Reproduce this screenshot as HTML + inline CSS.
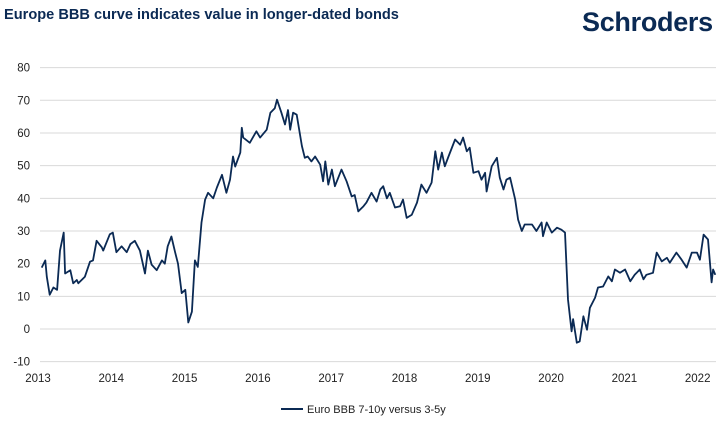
<!DOCTYPE html>
<html><head><meta charset="utf-8"><style>
body{margin:0;background:#fff;font-family:"Liberation Sans",sans-serif;}
#wrap{position:relative;width:727px;height:422px;overflow:hidden}
</style></head><body>
<div id="wrap">
<svg id="chart" width="727" height="422">
<text x="4" y="19" font-size="14.6" font-weight="bold" fill="#0b2a54">Europe BBB curve indicates value in longer-dated bonds</text>
<text x="582" y="31" font-size="27" font-weight="bold" fill="#0b2a54" letter-spacing="-0.3">Schroders</text>
<g id="grid"></g>
<g id="yticks"></g>
<g id="xticks"></g>
<path id="line" fill="none" stroke="#0b2a54" stroke-width="1.8" stroke-linejoin="round"></path>
<line x1="281" y1="409" x2="303" y2="409" stroke="#0b2a54" stroke-width="2"></line>
<text x="307" y="413" font-size="11" fill="#222">Euro BBB 7-10y versus 3-5y</text>
</svg>
</div>
<script>
const yTicks=[-10,0,10,20,30,40,50,60,70,80];
const xTicks=[2013,2014,2015,2016,2017,2018,2019,2020,2021,2022];
const dates=[0.05,0.10,0.12,0.16,0.21,0.26,0.30,0.35,0.37,0.44,0.48,0.53,0.55,0.64,0.71,0.75,0.80,0.87,0.89,0.98,1.02,1.07,1.14,1.21,1.26,1.32,1.39,1.46,1.50,1.55,1.62,1.69,1.73,1.77,1.82,1.87,1.91,1.96,2.01,2.05,2.10,2.14,2.18,2.23,2.28,2.32,2.39,2.44,2.51,2.57,2.62,2.66,2.69,2.76,2.78,2.80,2.89,2.98,3.03,3.12,3.17,3.23,3.26,3.32,3.37,3.41,3.44,3.48,3.53,3.60,3.64,3.68,3.73,3.78,3.85,3.89,3.92,3.96,4.01,4.05,4.14,4.21,4.28,4.32,4.37,4.44,4.48,4.55,4.62,4.67,4.71,4.76,4.80,4.87,4.94,4.98,5.03,5.10,5.17,5.23,5.30,5.37,5.42,5.46,5.51,5.55,5.60,5.69,5.76,5.80,5.85,5.89,5.94,6.01,6.05,6.10,6.12,6.19,6.26,6.30,6.35,6.39,6.44,6.51,6.55,6.60,6.64,6.74,6.80,6.87,6.89,6.94,7.01,7.08,7.14,7.19,7.23,7.28,7.30,7.35,7.39,7.44,7.49,7.53,7.60,7.64,7.71,7.78,7.83,7.87,7.94,8.01,8.08,8.14,8.21,8.26,8.30,8.39,8.44,8.51,8.58,8.62,8.71,8.78,8.85,8.92,8.99,9.03,9.08,9.14,9.19,9.21,9.24];
const values=[18.8,21,16,10.5,12.7,12,24,29.5,17,18,14,15,14,16,20.6,21,27,25,24,29,29.5,23.5,25.3,23.5,26,27,24,17,24,19.7,18,21,20,25.3,28.3,23.5,20,11,12,2,5.3,21,19,32.6,39.6,41.7,40,43.3,47.2,41.7,45.7,52.8,49.7,54,61.6,58.6,57,60.5,58.6,61,66.2,67.6,70.2,66.2,62.6,67,61,66.2,65.6,56,52.4,52.8,51.3,52.8,50.3,45.2,51.3,44.2,48.8,43.7,48.8,45.2,40.6,41,36,37.6,38.7,41.7,39,42.7,43.7,40,41.7,37.2,37.6,39.6,34,35,38.7,44.2,41.7,44.8,54.4,48.8,54,49.8,52.8,58,56.4,58.6,54.4,55.5,47.8,48.3,45.7,47.8,42.1,49.8,52.4,46.3,42.7,45.7,46.3,39.6,33.5,30,32,32,30,32.6,28.4,32.6,29.5,31,30.4,29.5,9,-0.7,3,-4.2,-3.8,3.9,-0.2,6.5,9.6,12.7,13,16.1,14.6,18.2,17.2,18.2,14.6,16.6,18.2,15.2,16.6,17.2,23.4,20.7,21.8,20.3,23.4,21.2,18.8,23.4,23.4,21.2,28.9,27.4,14.3,18.2,16.6];
const NS="http://www.w3.org/2000/svg";
const x=v=>38+(v-2013)*73.3, y=v=>329-v*3.267;
const grid=document.getElementById('grid'),yt=document.getElementById('yticks'),xt=document.getElementById('xticks');
yTicks.forEach(t=>{
 const l=document.createElementNS(NS,'line');
 
 
 l.setAttribute('x1',40);l.setAttribute('x2',716);l.setAttribute('y1',y(t));l.setAttribute('y2',y(t));
 l.setAttribute('stroke','#d9d9d9');l.setAttribute('stroke-width','1');grid.appendChild(l);
 const tx=document.createElementNS(NS,'text');
 
 
 tx.setAttribute('x',30);tx.setAttribute('y',y(t)+4);tx.setAttribute('text-anchor','end');
 tx.setAttribute('font-size','11.5');tx.setAttribute('fill','#222');tx.textContent=t;yt.appendChild(tx);
});
xTicks.forEach(t=>{
 const tx=document.createElementNS(NS,'text');
 
 
 tx.setAttribute('x',x(t));tx.setAttribute('y',382);tx.setAttribute('text-anchor','middle');
 tx.setAttribute('font-size','11.5');tx.setAttribute('fill','#222');tx.textContent=t;xt.appendChild(tx);
});
document.getElementById('line').setAttribute('d',dates.map((d,i)=>(i?'L':'M')+x(2013+d).toFixed(1)+','+y(values[i]).toFixed(1)).join(''));
</script>
</body></html>
